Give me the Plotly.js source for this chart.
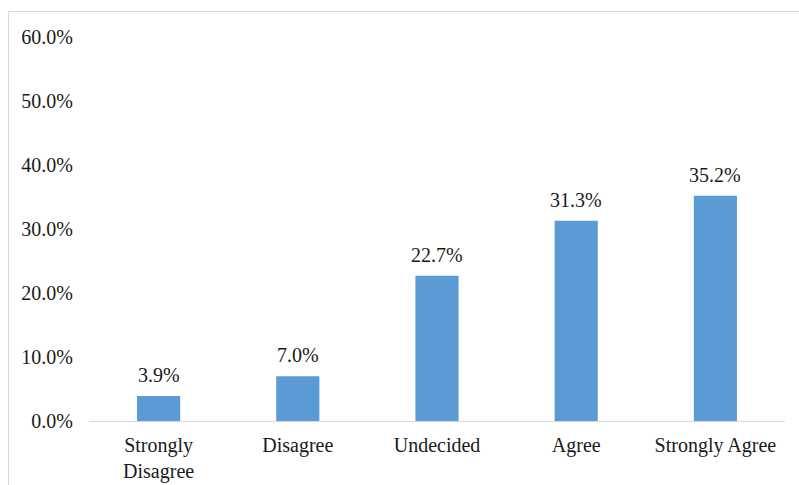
<!DOCTYPE html>
<html>
<head>
<meta charset="utf-8">
<script src="https://cdn.plot.ly/plotly-3.0.1.min.js"></script>
<style>
  html, body { margin: 0; padding: 0; background: #ffffff; }
  #frame { position: absolute; left: 8px; top: 11px; width: 820px; height: 520px; border: 1px solid #d9d9d9; box-sizing: border-box; }
  #chart { position: absolute; left: 0; top: 0; width: 799px; height: 485px; }
</style>
</head>
<body>
<div id="frame"></div>
<div id="chart"></div>
<script>
const categories = ["Strongly<br>Disagree", "Disagree", "Undecided", "Agree", "Strongly Agree"];
const values = [3.9, 7.0, 22.7, 31.3, 35.2];
const yTickValues = [0, 10, 20, 30, 40, 50, 60];

const fontFamily = '"Liberation Serif", "Times New Roman", serif';
const textColor = '#1a1a1a';
const fs = 20;

const trace = {
  type: 'bar',
  x: categories,
  y: values,
  marker: { color: '#5B9BD5' },
  hoverinfo: 'none'
};

const annotations = categories.map((c, i) => ({
  x: c,
  y: values[i],
  xref: 'x',
  yref: 'y',
  text: values[i].toFixed(1) + '%',
  showarrow: false,
  yanchor: 'bottom',
  yshift: 8,
  font: { family: fontFamily, size: fs, color: textColor }
}));

const layout = {
  width: 799,
  height: 485,
  margin: { l: 89, r: 14, t: 37, b: 64 },
  paper_bgcolor: 'rgba(0,0,0,0)',
  plot_bgcolor: 'rgba(0,0,0,0)',
  bargap: 0.69,
  showlegend: false,
  font: { family: fontFamily, size: fs, color: textColor },
  xaxis: {
    type: 'category',
    showgrid: false,
    showline: true,
    linecolor: '#d9d9d9',
    linewidth: 1,
    ticks: 'outside',
    ticklen: 6,
    tickcolor: 'rgba(0,0,0,0)',
    tickfont: { family: fontFamily, size: fs, color: textColor },
    zeroline: false
  },
  yaxis: {
    range: [0, 60],
    tickvals: yTickValues,
    ticktext: yTickValues.map(v => v.toFixed(1) + '%'),
    showgrid: false,
    showline: false,
    zeroline: false,
    ticks: 'outside',
    ticklen: 11,
    tickcolor: 'rgba(0,0,0,0)',
    tickfont: { family: fontFamily, size: fs, color: textColor }
  },
  annotations: annotations
};

Plotly.newPlot('chart', [trace], layout, { displayModeBar: false, staticPlot: true });
</script>
</body>
</html>
